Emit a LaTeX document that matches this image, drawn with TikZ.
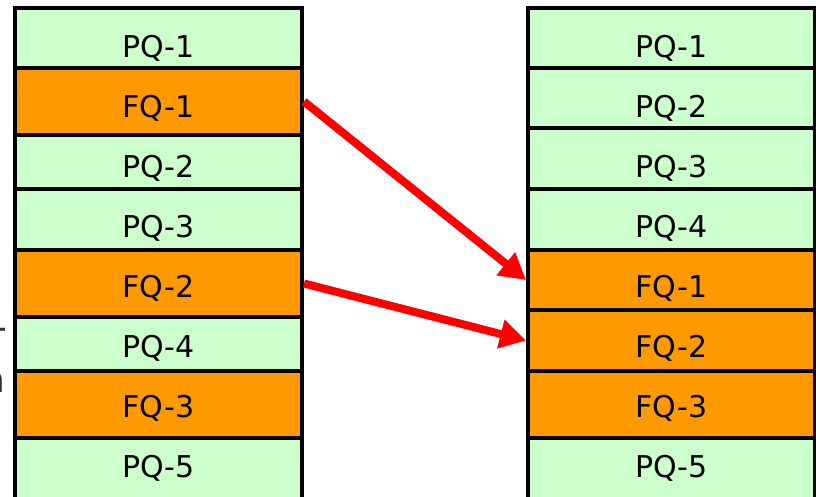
\documentclass[tikz,border=0pt]{standalone}
\usepackage{fontspec}
\setmainfont{DejaVu Sans}
\usetikzlibrary{arrows.meta}
\definecolor{pqgreen}{HTML}{CCFFCC}
\definecolor{fqorange}{HTML}{FF9900}
\definecolor{arrowred}{HTML}{FF0000}
\begin{document}
\begin{tikzpicture}[x=1pt,y=-1pt,
  cell/.style={draw=black, line width=4pt, inner sep=0pt, minimum width=287pt},
  pq/.style={cell, fill=pqgreen},
  fq/.style={cell, fill=fqorange},
  lbl/.style={anchor=base, inner sep=0pt, font=\fontsize{30}{36}\selectfont},
  frag/.style={anchor=base west, inner sep=0pt, text=black!80, font=\fontsize{36}{40}\selectfont},
  move/.style={draw=arrowred, line width=8pt, -{Triangle[length=26pt,width=28pt]}}]
\useasboundingbox (0,0) rectangle (816,496);
% left column
\node[pq, minimum height=60pt] (l1) at (158.5,38) {};
\node[fq, minimum height=67pt] (l2) at (158.5,101.5) {};
\node[pq, minimum height=54pt] (l3) at (158.5,162) {};
\node[pq, minimum height=61pt] (l4) at (158.5,219.5) {};
\node[fq, minimum height=67pt] (l5) at (158.5,283.5) {};
\node[pq, minimum height=54pt] (l6) at (158.5,344) {};
\node[fq, minimum height=67pt] (l7) at (158.5,404.5) {};
\node[pq, minimum height=92pt] (l8) at (158.5,484) {};
% right column
\node[pq, minimum height=60pt] (r1) at (671.5,38) {};
\node[pq, minimum height=60pt] (r2) at (671.5,98) {};
\node[pq, minimum height=61pt] (r3) at (671.5,158.5) {};
\node[pq, minimum height=61pt] (r4) at (671.5,219.5) {};
\node[fq, minimum height=60pt] (r5) at (671.5,280) {};
\node[fq, minimum height=61pt] (r6) at (671.5,340.5) {};
\node[fq, minimum height=67pt] (r7) at (671.5,404.5) {};
\node[pq, minimum height=92pt] (r8) at (671.5,484) {};
% labels
\node[lbl] (tl1) at (158.5,57) {PQ-1};
\node[lbl] (tl2) at (158.5,117) {FQ-1};
\node[lbl] (tl3) at (158.5,177) {PQ-2};
\node[lbl] (tl4) at (158.5,237) {PQ-3};
\node[lbl] (tl5) at (158.5,297) {FQ-2};
\node[lbl] (tl6) at (158.5,357) {PQ-4};
\node[lbl] (tl7) at (158.5,417) {FQ-3};
\node[lbl] (tl8) at (158.5,477) {PQ-5};
\node[lbl] (tr1) at (671.5,57) {PQ-1};
\node[lbl] (tr2) at (671.5,117) {PQ-2};
\node[lbl] (tr3) at (671.5,177) {PQ-3};
\node[lbl] (tr4) at (671.5,237) {PQ-4};
\node[lbl] (tr5) at (671.5,297) {FQ-1};
\node[lbl] (tr6) at (671.5,357) {FQ-2};
\node[lbl] (tr7) at (671.5,417) {FQ-3};
\node[lbl] (tr8) at (671.5,477) {PQ-5};
% cut-off text at the left edge
\node[frag] (f1) at (-17,354) {T};
\node[frag] (f2) at (-18,392) {n};
% arrows
\draw[move] (l2.east) -- (r5.west);
\draw[move] (l5.east) -- (r6.west);
\end{tikzpicture}
\end{document}
